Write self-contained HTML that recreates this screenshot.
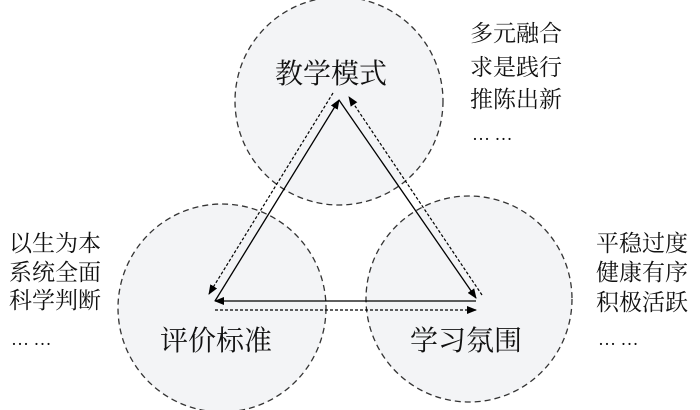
<!DOCTYPE html>
<html><head><meta charset="utf-8"><style>
html,body{margin:0;padding:0;background:#fff;}
svg{display:block}
text{font-family:"Liberation Serif","Noto Serif CJK SC",serif;fill:#111;}
</style></head><body>
<svg width="700" height="410" viewBox="0 0 700 410" xmlns="http://www.w3.org/2000/svg">
<defs>
<marker id="a" markerWidth="10" markerHeight="8" refX="9" refY="4" orient="auto" markerUnits="userSpaceOnUse"><path d="M0,0 L10,4 L0,8 z" fill="#000"/></marker>
</defs>
<g fill="#f3f4f6" stroke="#333" stroke-width="1.3" stroke-dasharray="6,4">
<circle cx="339" cy="101" r="104"/>
<circle cx="222" cy="308" r="104"/>
<circle cx="469" cy="299" r="103"/>
</g>
<g stroke="#000" stroke-width="1.3" fill="none">
<line x1="215" y1="301" x2="339" y2="100" marker-end="url(#a)"/>
<line x1="339" y1="100" x2="476" y2="298" marker-end="url(#a)"/>
<line x1="476" y1="301" x2="215" y2="301" marker-end="url(#a)"/>
</g>
<g stroke="#000" stroke-width="1.2" fill="none" stroke-dasharray="3,2">
<line x1="333" y1="93" x2="209" y2="294" marker-end="url(#a)"/>
<line x1="482" y1="295" x2="349" y2="97" marker-end="url(#a)"/>
<line x1="215" y1="310" x2="476" y2="310" marker-end="url(#a)"/>
</g>
<g font-size="28">
<text x="275" y="83">教学模式</text>
<text x="160" y="350">评价标准</text>
<text x="410" y="350">学习氛围</text>
</g>
<g font-size="23">
<text x="470" y="41">多元融合</text>
<text x="470" y="75">求是践行</text>
<text x="470" y="107">推陈出新</text>
<text x="9" y="251">以生为本</text>
<text x="9" y="280">系统全面</text>
<text x="9" y="308">科学判断</text>
<text x="596" y="251">平稳过度</text>
<text x="596" y="280">健康有序</text>
<text x="596" y="310">积极活跃</text>
</g>
<g font-size="18">
<text x="472" y="140">… …</text>
<text x="11" y="345">… …</text>
<text x="598" y="345">… …</text>
</g>
</svg>
</body></html>
